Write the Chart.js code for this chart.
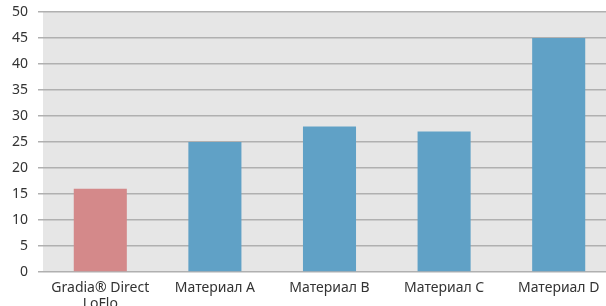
<!DOCTYPE html>
<html>
<head>
<meta charset="utf-8">
<script src="https://cdn.jsdelivr.net/npm/chart.js@4"></script>
<style>
html,body{margin:0;padding:0;background:#fff;overflow:hidden;width:606px;height:306px;}
#wrap{position:relative;width:616px;height:306px;}
</style>
</head>
<body>
<div id="wrap"><canvas id="c" width="616" height="306"></canvas></div>
<script>
const categories = [['Gradia® Direct', 'LoFlo'], 'Материал A', 'Материал B', 'Материал C', 'Материал D'];
const values = [16, 25, 28, 27, 45];
const barColors = ['#D4898A', '#60A1C6', '#60A1C6', '#60A1C6', '#60A1C6'];
const yMin = 0, yMax = 50, yStep = 5;

const bgPlugin = {
  id: 'bg',
  beforeDraw(chart) {
    const {ctx, chartArea: a} = chart;
    ctx.save();
    ctx.fillStyle = '#E6E6E6';
    ctx.fillRect(a.left, a.top, a.right - a.left, a.bottom - a.top);
    ctx.restore();
  }
};

const font = {family: '"Noto Sans", sans-serif', size: 14, lineHeight: 1.15};

new Chart(document.getElementById('c'), {
  type: 'bar',
  data: {
    labels: categories,
    datasets: [{data: values, backgroundColor: barColors, barPercentage: 0.463, categoryPercentage: 1}]
  },
  options: {
    responsive: false,
    animation: false,
    devicePixelRatio: 1,
    layout: {padding: {top: 12, left: 0, right: 0, bottom: 0}},
    plugins: {legend: {display: false}, tooltip: {enabled: false}},
    scales: {
      x: {
        grid: {display: false},
        border: {display: false},
        ticks: {color: '#333', font: font, padding: 0, maxRotation: 0, autoSkip: false},
        afterFit(s) { s.height = 34; s.paddingLeft = 0; s.paddingRight = 0; }
      },
      y: {
        min: yMin, max: yMax,
        grid: {color: '#B0B0B0', lineWidth: 1.5, tickLength: 5},
        border: {display: false},
        ticks: {stepSize: yStep, color: '#333', font: font, padding: 10},
        afterFit(s) { s.width = 43; s.paddingTop = 0; s.paddingBottom = 0; }
      }
    }
  },
  plugins: [bgPlugin]
});
</script>
</body>
</html>
